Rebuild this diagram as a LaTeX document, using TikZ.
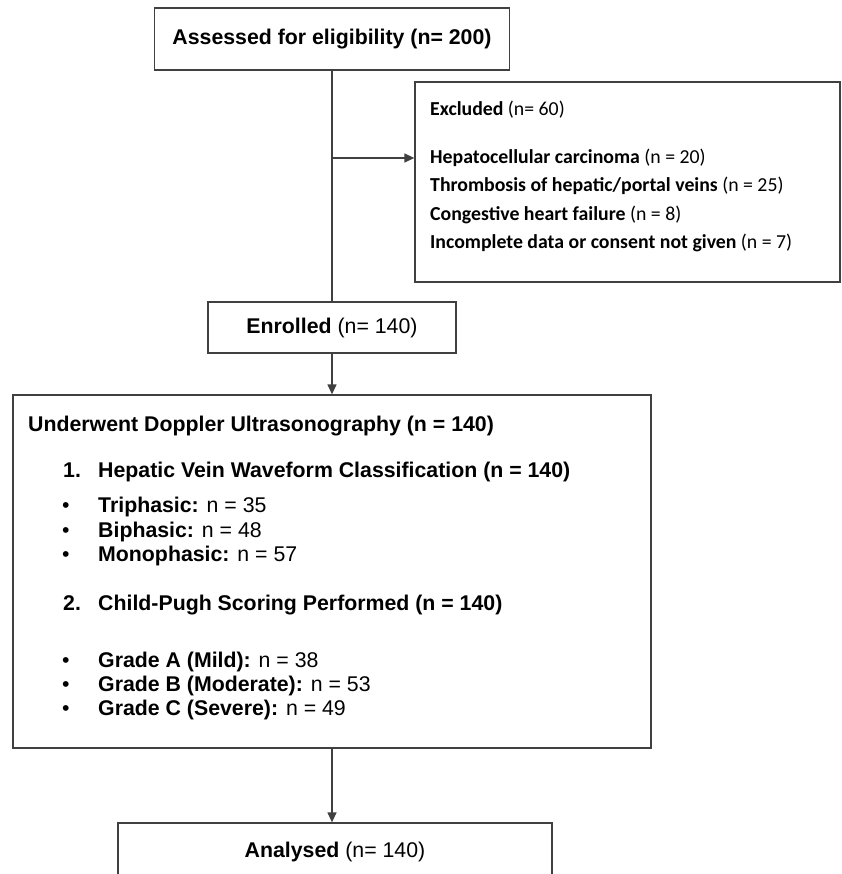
\documentclass[tikz,border=0pt]{standalone}
\usepackage{fontspec}
\setmainfont{Liberation Sans}
\newfontfamily\calib{Carlito}
\usetikzlibrary{arrows.meta,positioning}
\definecolor{line-gray}{RGB}{64,64,64}

\begin{document}
\begin{tikzpicture}[x=1pt, y=-1pt,
 box/.style={draw=line-gray, line width=1.3pt, inner sep=0pt, fill=white},
 big/.style={font=\fontsize{21.3}{24}\selectfont},
 txt/.style={anchor=base west, inner sep=0pt, big},
 ex/.style={anchor=base west, inner sep=0pt, font=\calib\fontsize{19.8}{23}\selectfont},
 ln/.style={line-gray, line width=1.3pt},
 ar/.style={ln, -{Triangle[length=10pt,width=9pt]}},
]
 \useasboundingbox (0,0) rectangle (841,874);

 \node[box, big, minimum width=355pt, minimum height=62pt] (assess) at (332,39) {\textbf{Assessed for eligibility (n= 200)}};
 \node[box, minimum width=425pt, minimum height=200pt] (exc) at (627.5,182) {};
 \node[box, big, minimum width=248pt, minimum height=51pt] (enrol) at (332,327.5) {\textbf{Enrolled} (n= 140)};
 \node[box, minimum width=638pt, minimum height=353pt] (dop) at (332,571.5) {};
 \node[box, big, minimum width=434pt, minimum height=58pt] (anal) at (335,852) {\textbf{Analysed} (n= 140)};

 % excluded list
 \node[ex] (e0) at (430,116) {\textbf{Excluded} (n= 60)};
 \node[ex] (e1) at (430,164) {\textbf{Hepatocellular carcinoma} (n = 20)};
 \node[ex] (e2) at (430,192) {\textbf{Thrombosis of hepatic/portal veins} (n = 25)};
 \node[ex] (e3) at (430,221) {\textbf{Congestive heart failure} (n = 8)};
 \node[ex] (e4) at (430,249) {\textbf{Incomplete data or consent not given} (n = 7)};

 % doppler box contents
 \node[txt] (d0) at (28,431) {\textbf{Underwent Doppler Ultrasonography (n = 140)}};
 \node[txt] (h1) at (63,477) {\textbf{1.}};
 \node[txt] (d1) at (98,477) {\textbf{Hepatic Vein Waveform Classification (n = 140)}};
 \node[txt] (b1) at (62,512) {•};
 \node[txt] (w1) at (98,512) {\textbf{Triphasic:} n = 35};
 \node[txt] (b2) at (62,537) {•};
 \node[txt] (w2) at (98,537) {\textbf{Biphasic:} n = 48};
 \node[txt] (b3) at (62,561) {•};
 \node[txt] (w3) at (98,561) {\textbf{Monophasic:} n = 57};
 \node[txt] (h2) at (63,610) {\textbf{2.}};
 \node[txt] (d2) at (98,610) {\textbf{Child-Pugh Scoring Performed (n = 140)}};
 \node[txt] (b4) at (62,667) {•};
 \node[txt] (g1) at (98,667) {\textbf{Grade A (Mild):} n = 38};
 \node[txt] (b5) at (62,691) {•};
 \node[txt] (g2) at (98,691) {\textbf{Grade B (Moderate):} n = 53};
 \node[txt] (b6) at (62,715) {•};
 \node[txt] (g3) at (98,715) {\textbf{Grade C (Severe):} n = 49};

 \coordinate (br) at (332,158);
 \draw[ln] (assess) -- (enrol);
 \draw[ar] (br) -- (br -| exc.west);
 \draw[ar] (enrol) -- (dop);
 \draw[ar] (dop.south) -- (dop.south |- anal.north);
\end{tikzpicture}
\end{document}
